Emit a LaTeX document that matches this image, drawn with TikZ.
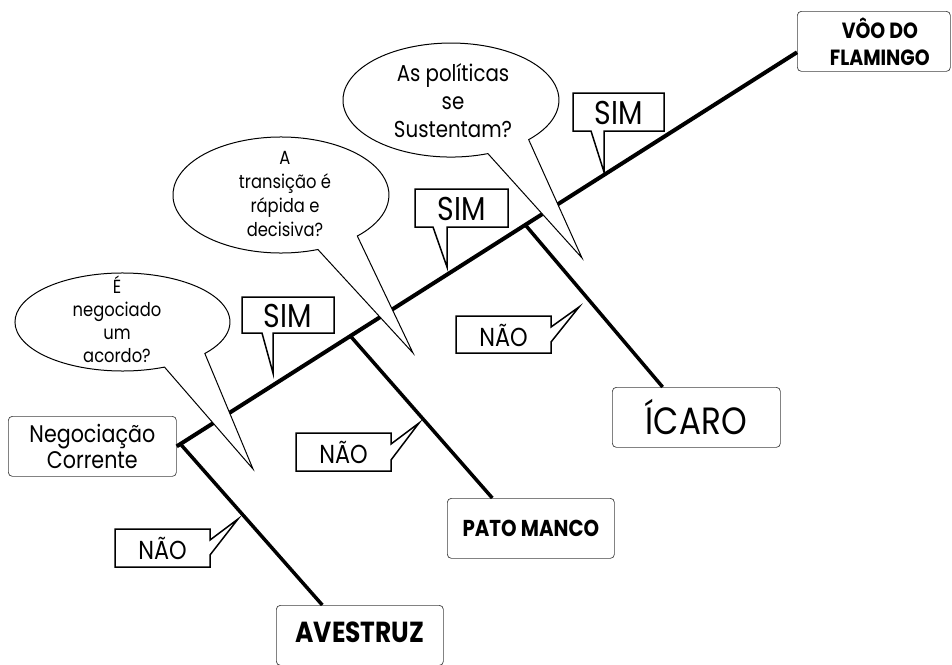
\documentclass[tikz,border=0pt]{standalone}
\usepackage{fontspec}
\setmainfont{Poppins}[FakeStretch=0.86]
\usetikzlibrary{calc}
\tikzset{
  box/.style={draw=black!75, line width=0.7pt, rounded corners=4pt, fill=white, align=center, inner sep=0pt, minimum height=60pt},
  mainline/.style={line width=4pt},
  branchline/.style={line width=3.5pt},
  callout/.style={draw, line width=1.5pt, fill=white, line join=miter},
  bubble/.style={draw, line width=1pt, fill=white, line join=miter},
  lbl/.style={inner sep=0pt, align=center},
}
\begin{document}
\begin{tikzpicture}[x=1pt,y=-1pt]
\useasboundingbox (0,0) rectangle (952,664);
% end boxes
\node[box, anchor=north west, minimum width=168pt, font=\fontsize{24}{26}\selectfont] (neg) at (8,416)
  {Negocia\c{c}\~ao\\Corrente};
\node[box, anchor=north west, minimum width=153pt, font=\fontsize{22}{27}\selectfont\bfseries] (voo) at (797,11)
  {\hspace*{12pt}V\^OO DO\\\hspace*{12pt}FLAMINGO};
\node[box, anchor=north west, minimum width=167pt, font=\fontsize{29}{30}\selectfont\bfseries] (ave) at (276,605)
  {\raisebox{6pt}{AVESTRUZ}};
\node[box, anchor=north west, minimum width=167pt, font=\fontsize{23}{24}\selectfont\bfseries] (pato) at (447,498)
  {PATO MANCO};
\node[box, anchor=north west, minimum width=168pt, font=\fontsize{38}{40}\selectfont] (icaro) at (612,387)
  {\'ICARO};
% main line and branches
\coordinate (vooE) at ($(voo.south west)!0.32!(voo.north west)$);
\draw[mainline] (neg.east) -- (vooE);
\coordinate (m1) at ($(neg.east)!0.006!(vooE)$);
\coordinate (m2) at ($(neg.east)!0.28!(vooE)$);
\coordinate (m3) at ($(neg.east)!0.562!(vooE)$);
\draw[branchline] (m1) -- ($(ave.north west)!0.276!(ave.north east)$);
\draw[branchline] (m2) -- ($(pato.north west)!0.27!(pato.north east)$);
\draw[branchline] (m3) -- ($(icaro.north west)!0.30!(icaro.north east)$);
% SIM callouts
\draw[callout] (242,297) -- (334,297) -- (334,333) -- (273,333) -- (273,373) -- (262,333) -- (242,333) -- cycle;
\node[lbl, font=\fontsize{33}{33}\selectfont] (sim1) at (288,316) {SIM};
\draw[callout] (415,189) -- (508,189) -- (508,227) -- (447,227) -- (447,267) -- (433,227) -- (415,227) -- cycle;
\node[lbl, font=\fontsize{33}{33}\selectfont] (sim2) at (461.5,209) {SIM};
\draw[callout] (573,93) -- (664,93) -- (664,131) -- (604,131) -- (604,172) -- (591,131) -- (573,131) -- cycle;
\node[lbl, font=\fontsize{33}{33}\selectfont] (sim3) at (618.5,113) {SIM};
% NAO callouts
\draw[callout] (115,529) -- (210,529) -- (210,540) -- (238,519) -- (210,555) -- (210,567) -- (115,567) -- cycle;
\node[lbl, font=\fontsize{26}{26}\selectfont] (nao1) at (162.5,548) {N\~AO};
\draw[callout] (296,433) -- (391,433) -- (391,444) -- (419,423) -- (391,460) -- (391,471) -- (296,471) -- cycle;
\node[lbl, font=\fontsize{26}{26}\selectfont] (nao2) at (343.5,452) {N\~AO};
\draw[callout] (456,316) -- (551,316) -- (551,327) -- (579,307) -- (551,342) -- (551,353) -- (456,353) -- cycle;
\node[lbl, font=\fontsize{26}{26}\selectfont] (nao3) at (503.5,335) {N\~AO};
% speech bubbles
\draw[bubble] (164.5,367.1) arc[start angle=67, end angle=400, x radius=107.5, y radius=49] -- (253,469) -- cycle;
\node[lbl, font=\fontsize{19}{23}\selectfont] (q1) at (117,319) {\'E\\negociado\\um\\acordo?};
\draw[bubble] (317.9,249.5) arc[start angle=70, end angle=405, x radius=108, y radius=58] -- (413,353) -- cycle;
\node[lbl, font=\fontsize{19}{24}\selectfont] (q2) at (285,194) {A\\transi\c{c}\~ao \'e\\r\'apida e\\decisiva?};
\draw[bubble] (487.9,153.6) arc[start angle=70, end angle=404, x radius=108, y radius=57] -- (582,258) -- cycle;
\node[lbl, font=\fontsize{23}{28}\selectfont] (q3) at (453,101) {As pol\'iticas\\se\\Sustentam?};
\end{tikzpicture}
\end{document}
